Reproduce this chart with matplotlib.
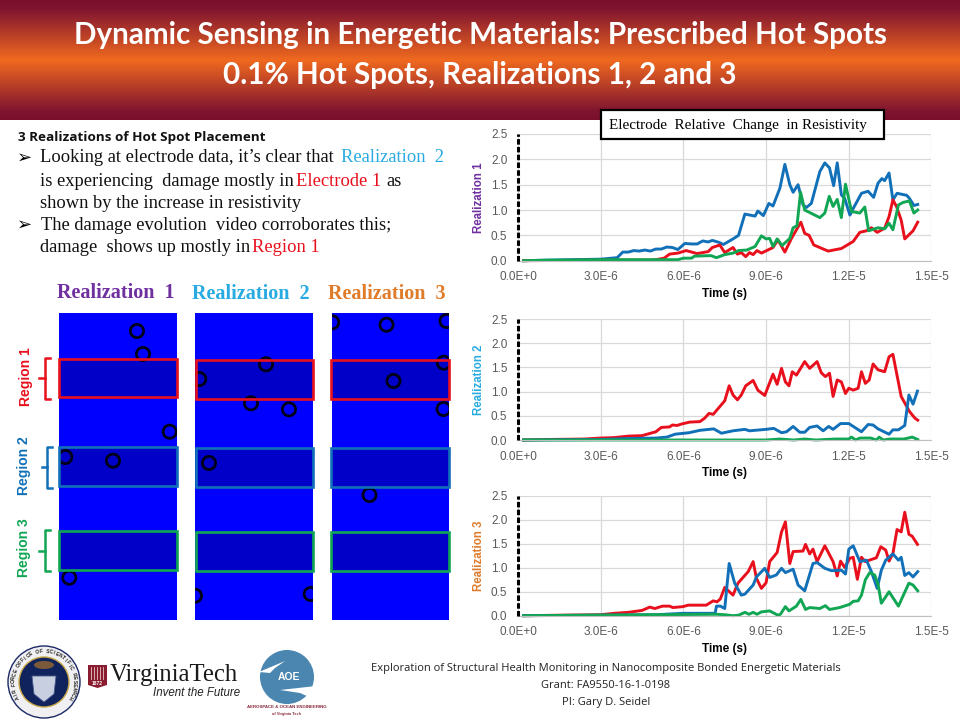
import matplotlib
matplotlib.use("Agg")
import matplotlib.pyplot as plt
import numpy as np
from matplotlib.colors import LinearSegmentedColormap
from matplotlib.patches import Rectangle, Circle, Ellipse, Polygon

RED, BLUE, GREEN = "#e8101c", "#1170b8", "#10a653"
PURPLE, CYAN, ORANGE = "#7030a0", "#29abe2", "#e07b2a"

title_lines = ["Dynamic Sensing in Energetic Materials: Prescribed Hot Spots",
               "0.1% Hot Spots, Realizations 1, 2 and 3"]
realization_names = ["Realization 1", "Realization 2", "Realization 3"]
x_tick_values = [0, 3, 6, 9, 12, 15]
x_tick_labels = ["0.0E+0", "3.0E-6", "6.0E-6", "9.0E-6", "1.2E-5", "1.5E-5"]
y_tick_values = [0, 0.5, 1, 1.5, 2, 2.5]
y_tick_labels = ["0.0", "0.5", "1.0", "1.5", "2.0", "2.5"]

# time (microseconds), value pairs
r1_blue_t = [0.2,1,2,3,3.4,3.6,3.8,4.0,4.2,4.4,4.6,4.8,5.0,5.2,5.4,5.6,5.8,6.05,6.3,6.5,6.7,6.9,7.05,7.3,7.45,7.8,8.0,8.23,8.6,8.7,8.9,9.1,9.25,9.5,9.68,9.86,9.98,10.16,10.34,10.46,10.64,10.95,11.13,11.3,11.45,11.58,11.73,11.85,12.04,12.16,12.46,12.7,12.9,13.06,13.2,13.3,13.46,13.6,13.75,14.1,14.2,14.36,14.5]
r1_blue_v = [0,0.01,0.02,0.03,0.05,0.06,0.17,0.17,0.2,0.19,0.21,0.19,0.23,0.23,0.27,0.26,0.22,0.34,0.33,0.33,0.39,0.37,0.4,0.36,0.32,0.43,0.5,0.92,0.88,0.98,0.89,1.13,1.08,1.43,1.9,1.5,1.35,1.5,1.1,1.05,1.13,1.76,1.93,1.83,1.48,1.93,1.3,1.23,0.9,1.03,1.33,1.37,1.25,1.53,1.62,1.58,1.73,1.2,1.33,1.29,1.23,1.09,1.11]
r1_red_t = [0.2,3,4.8,5.0,5.3,5.5,5.8,6.1,6.5,6.9,7.05,7.32,7.5,7.8,7.96,8.1,8.26,8.4,8.53,8.67,8.83,9.25,9.43,9.68,9.92,10.26,10.4,10.56,10.73,11.25,11.73,12.16,12.4,12.64,12.82,13.03,13.3,13.46,13.6,13.73,13.9,14.03,14.33,14.5]
r1_red_v = [0,0.01,0.01,0.02,0.05,0.13,0.15,0.2,0.14,0.18,0.26,0.31,0.16,0.26,0.13,0.16,0.08,0.16,0.12,0.2,0.15,0.26,0.41,0.17,0.44,0.76,0.54,0.5,0.31,0.19,0.24,0.38,0.56,0.59,0.65,0.56,0.64,0.87,1.2,1.07,0.8,0.43,0.59,0.76]
r1_green_t = [0.2,1,3,5.8,6.0,6.3,6.4,7.0,7.2,7.5,7.8,8.0,8.3,8.6,8.83,9.0,9.13,9.25,9.4,9.58,9.86,9.98,10.12,10.25,10.4,10.95,11.13,11.29,11.43,11.58,11.73,11.88,12.1,12.4,12.58,12.72,13.06,13.3,13.46,13.6,13.8,13.97,14.2,14.36,14.5]
r1_green_v = [0,0.01,0.02,0.02,0.05,0.05,0.09,0.1,0.06,0.12,0.15,0.2,0.21,0.28,0.49,0.43,0.44,0.28,0.43,0.3,0.44,0.65,0.69,1.35,1.0,0.85,0.94,1.27,1.07,1.21,0.85,1.51,0.97,0.94,1.06,0.59,0.65,0.63,0.74,0.61,1.1,1.15,1.18,0.94,1.0]

r2_red_t = [0.2,1,2.4,3,3.5,4,4.5,5,5.2,5.5,5.6,5.77,5.93,6.23,6.6,6.77,6.93,7.08,7.5,7.66,7.8,7.96,8.1,8.26,8.53,8.7,8.95,9.25,9.4,9.56,9.7,9.83,9.95,10.1,10.4,10.58,10.85,11.0,11.15,11.3,11.43,11.58,11.73,11.88,12.0,12.16,12.34,12.46,12.6,12.74,12.88,13.06,13.3,13.46,13.6,13.9,14.2,14.4,14.5]
r2_red_v = [0,0.01,0.02,0.04,0.05,0.08,0.09,0.17,0.26,0.27,0.31,0.3,0.33,0.37,0.38,0.45,0.55,0.53,0.81,1.12,0.93,0.83,0.93,1.12,1.23,1.03,0.92,1.36,1.15,1.48,1.2,1.12,1.41,1.34,1.62,1.48,1.62,1.39,1.31,1.38,0.9,1.24,1.2,0.96,1.07,1.03,1.07,1.41,1.17,1.24,1.57,1.45,1.41,1.72,1.77,0.9,0.59,0.45,0.41]
r2_blue_t = [0.2,3,4,5,5.4,5.7,6.2,6.6,7.1,7.38,7.8,8.23,8.4,9.0,9.28,9.56,9.74,9.98,10.22,10.4,10.58,10.85,11.07,11.27,11.43,11.7,12,12.46,12.7,12.88,13.06,13.46,13.6,13.8,14.03,14.18,14.33,14.49]
r2_blue_v = [0,0.01,0.03,0.04,0.06,0.12,0.15,0.2,0.23,0.14,0.19,0.22,0.19,0.22,0.24,0.15,0.17,0.28,0.16,0.16,0.26,0.29,0.19,0.28,0.22,0.34,0.34,0.17,0.32,0.31,0.23,0.12,0.21,0.21,0.3,0.93,0.74,1.01]
r2_green_t = [0.2,9,9.5,10,10.4,10.8,11.5,12,12.1,12.25,12.4,12.8,13,13.1,13.25,13.5,14,14.3,14.5]
r2_green_v = [0,0,0.02,0,0.02,0,0.02,0.02,0.06,0,0.04,0.04,0,0.06,0,0.02,0.02,0.06,0.01]

r3_red_t = [0.2,1.5,3,3.5,4,4.5,4.78,4.96,5.24,5.5,5.62,5.99,6.17,6.83,7.08,7.22,7.34,7.5,7.8,7.98,8.35,8.53,8.65,8.83,9.0,9.13,9.4,9.56,9.7,9.86,9.98,10.34,10.43,10.58,10.7,10.85,11.13,11.43,11.58,11.7,11.85,12.04,12.16,12.31,12.46,12.6,13,13.16,13.34,13.46,13.6,13.75,13.9,14.03,14.18,14.3,14.49]
r3_red_v = [0,0.01,0.02,0.05,0.07,0.11,0.18,0.15,0.2,0.2,0.17,0.19,0.22,0.22,0.31,0.29,0.35,0.59,0.43,0.68,0.92,1.13,0.78,0.57,0.69,1.13,1.32,1.75,1.96,1.09,1.34,1.35,1.49,1.29,1.39,1.13,1.46,1.13,0.83,1.14,1.01,1.2,1.22,0.76,1.22,1.13,1.21,1.44,1.37,1.14,1.3,1.8,1.75,2.16,1.7,1.66,1.49]
r3_blue_t = [0.2,5,6,7,7.15,7.2,7.34,7.5,7.66,7.86,8.1,8.23,8.53,8.65,8.95,9.13,9.37,9.56,9.7,9.98,10.16,10.4,10.7,10.85,11.13,11.37,11.73,11.88,12,12.16,12.4,12.64,12.82,13.03,13.18,13.34,13.6,13.8,13.9,14.03,14.18,14.33,14.5]
r3_blue_v = [0,0.02,0.05,0.05,0.05,0.2,0.2,0.15,1.09,0.68,0.43,0.45,0.64,0.81,0.99,0.8,0.85,0.99,0.9,0.97,0.64,0.52,1.09,1.11,0.99,0.94,0.95,0.87,1.39,1.46,1.13,1.16,0.92,0.57,0.95,1.16,1.29,1.16,1.22,0.84,0.9,0.81,0.92]
r3_green_t = [0.2,5,7.2,7.5,7.8,8.0,8.23,8.38,8.53,8.67,8.83,9.13,9.43,9.52,9.7,9.83,10.1,10.26,10.43,10.58,10.95,11.15,11.3,11.67,12.04,12.16,12.34,12.46,12.6,12.76,12.94,13.06,13.18,13.46,13.8,14.18,14.33,14.5]
r3_green_v = [0,0.02,0.03,0.02,0,0.01,0.07,0.03,0.07,0.03,0.08,0.1,0.01,0.03,0.19,0.1,0.2,0.34,0.13,0.17,0.15,0.21,0.13,0.17,0.24,0.3,0.31,0.43,0.75,0.9,0.85,0.66,0.26,0.5,0.2,0.68,0.64,0.52]

# hot spot centres inside each realization panel
spots_r1 = [(78,18),(84,41),(110.7,118.7),(6.3,144),(54,147.7),(10.3,264.7)]
spots_r2 = [(71,51.3),(4.3,66),(56,90.3),(94,96.3),(14,150),(0,282.7),(115.7,281)]
spots_r3 = [(0.7,9.3),(55,11.7),(115,8),(112.3,49.7),(62,68),(112,96),(38,182)]

fig = plt.figure(figsize=(9.6, 7.2), dpi=100, facecolor="white")

def px_axes(l, t, r, b, **kw):
    return fig.add_axes([l/960, 1-b/720, (r-l)/960, (b-t)/720], **kw)

# header gradient
hax = px_axes(0, 0, 960, 120)
cmap = LinearSegmentedColormap.from_list("hdr", [(0, "#7a0f2c"), (0.07, "#7f1430"), (0.5, "#f0691f"), (0.93, "#7f1430"), (1, "#7a0f2c")])
hax.imshow(np.linspace(0, 1, 240)[:, None], cmap=cmap, aspect="auto", extent=(0, 960, 120, 0))
hax.axis("off")

# charts
series = [
    [(r1_blue_t, r1_blue_v, BLUE), (r1_red_t, r1_red_v, RED), (r1_green_t, r1_green_v, GREEN)],
    [(r2_red_t, r2_red_v, RED), (r2_blue_t, r2_blue_v, BLUE), (r2_green_t, r2_green_v, GREEN)],
    [(r3_red_t, r3_red_v, RED), (r3_blue_t, r3_blue_v, BLUE), (r3_green_t, r3_green_v, GREEN)],
]
chart_boxes = [(134, 260.7), (319, 440), (496, 615.7)]
ylab_cols = [PURPLE, CYAN, ORANGE]
for (top, bot), ser, name, col in zip(chart_boxes, series, realization_names, ylab_cols):
    ax = px_axes(518, top, 931.5, bot)
    ax.set_xlim(0, 15); ax.set_ylim(0, 2.5)
    ax.set_xticks(x_tick_values, x_tick_labels)
    ax.set_yticks(y_tick_values, y_tick_labels)
    ax.grid(True, color="#d9d9d9", lw=0.9)
    ax.set_axisbelow(True)
    ax.tick_params(length=0, labelsize=8.5, labelcolor="#595959", pad=7.6,
                   labelfontfamily="Liberation Sans")
    for s in ["top", "right", "left"]:
        ax.spines[s].set_visible(False)
    ax.spines["bottom"].set_color("#bfbfbf")
    ax.plot([0, 0], [0, 2.5], color="black", lw=2.2, dashes=(1.8, 0.75), clip_on=False,
            dash_capstyle="butt", zorder=4)
    for t, v, c in ser:
        ax.plot(t, v, color=c, lw=2.1, solid_joinstyle="round", clip_on=False)
    ax.set_xlabel("Time (s)", fontsize=8.5, fontweight="bold", family="Liberation Sans", labelpad=3.5, color="black")
    ax.set_ylabel(name, fontsize=8.3, fontweight="bold", family="Liberation Sans", color=col, labelpad=0)
    ax.yaxis.set_label_coords((485-518)/413.5, 0.5)

# overlay in pixel coordinates
ov = px_axes(0, 0, 960, 720)
ov.set_xlim(0, 960); ov.set_ylim(720, 0); ov.axis("off"); ov.patch.set_alpha(0)

for y, line in zip([35, 75], title_lines):
    ov.text(480, y, line, color="white", fontsize=21.3, fontweight="bold", family="Lato", ha="center", va="center")

# title box
ov.add_patch(Rectangle((601, 110), 283, 29, fc="white", ec="black", lw=1.6, zorder=5))
ov.text(609, 125, "Electrode  Relative  Change  in Resistivity", family="Liberation Serif", fontsize=10.9,
        ha="left", va="center", zorder=6, color="black")

# body text
ov.text(18, 137, "3 Realizations of Hot Spot Placement", family="Open Sans", fontweight="bold", fontsize=9.7,
        va="center", color="#111111")
SERIF = dict(family="Liberation Serif", fontsize=13.3, va="center", color="#111111")
for y in [158, 225]:
    ov.text(17, y, "➢", family="DejaVu Sans", fontsize=13, va="center", color="black")
body = [
    (40, 158, "Looking at electrode data, it’s clear that", None),
    (341, 158, "Realization  2", CYAN),
    (40, 181, "is experiencing  damage mostly in", None),
    (296, 181, "Electrode 1", RED),
    (386, 181, "as", None),
    (40, 203, "shown by the increase in resistivity", None),
    (41, 225, "The damage evolution  video corroborates this;", None),
    (40, 248, "damage  shows up mostly in", None),
    (252, 248, "Region 1", RED),
]
for x, y, s, c in body:
    kw = dict(SERIF)
    if c:
        kw["color"] = c
    ov.text(x, y, s, **kw)

# realization headings
for x, y, s, c in zip([57, 192, 328], [293, 294, 294], realization_names, ylab_cols):
    ov.text(x, y, s.replace(" ", "  "), family="Liberation Serif", fontweight="bold", fontsize=14.5, color=c, va="center")

# panels, regions, hot spots
panel_lefts = [59, 195, 331.5]
region_cols = [RED, BLUE, GREEN]
region_spans = [[(358.8, 397.3), (447, 485.5), (531, 569.5)],
                [(359.7, 398.7), (447.7, 487), (532, 570.7)],
                [(359.7, 398.7), (447.7, 487), (532, 570.7)]]
region_x = [(58.5, 177), (196, 313), (331, 448.5)]
for left, spots, (x0, x1), spans in zip(panel_lefts, [spots_r1, spots_r2, spots_r3], region_x, region_spans):
    panel = Rectangle((left, 313), 117.5, 307, fc="#0000ff", ec="none", zorder=1)
    ov.add_patch(panel)
    for (y0, y1), c in zip(spans, region_cols):
        ov.add_patch(Rectangle((x0, y0), x1-x0, y1-y0, fc="#0000c8", ec="none", zorder=2))
    sc = ov.scatter([left+s[0] for s in spots], [313+s[1] for s in spots], s=90, facecolors="none",
                    edgecolors="#000018", linewidths=2.0, zorder=3)
    sc.set_clip_path(panel)
    for (y0, y1), c in zip(spans, region_cols):
        ov.add_patch(Rectangle((x0, y0), x1-x0, y1-y0, fc="none", ec=c, lw=1.9, zorder=4))

# brackets and region labels
brackets = [(50, 45, 39, 358, 378, 399, RED), (52, 47, 42, 447, 467, 488, BLUE), (50, 45, 39, 530, 551, 571, GREEN)]
for xe, xv, xt, y0, ym, y1, c in brackets:
    ov.plot([xe, xv, xv, xe], [y0, y0, y1, y1], color=c, lw=1.8, solid_joinstyle="round")
    ov.plot([xt, xv], [ym, ym], color=c, lw=1.8)
for x, y, s, c in [(26, 377, "Region 1", RED), (24, 466, "Region 2", BLUE), (24, 548, "Region 3", GREEN)]:
    ov.text(x, y, s, family="Liberation Sans", fontweight="bold", fontsize=10, color=c, rotation=90, ha="center", va="center")

# footer
for y, s in zip([669, 685, 702], ["Exploration of Structural Health Monitoring in Nanocomposite Bonded Energetic Materials",
                                  "Grant: FA9550-16-1-0198", "PI: Gary D. Seidel"]):
    ov.text(606, y, s, family="Open Sans", fontsize=7.97, ha="center", va="center", color="#222222")

# AFOSR seal
ov.add_patch(Circle((44, 682), 36, fc="#f0f0f2", ec="#1a2a66", lw=1.0))
ov.add_patch(Circle((44, 682), 25, fc="#10235c", ec="#c9a94a", lw=1.0))
seal_text = "AIR FORCE OFFICE OF SCIENTIFIC RESEARCH"
for i, ch in enumerate(seal_text):
    a = np.deg2rad(-120 + 240*i/(len(seal_text)-1))
    ov.text(44+30.5*np.sin(a), 682-30.5*np.cos(a), ch, fontsize=3.6, fontweight="bold", family="Liberation Sans",
            color="#222222", rotation=-np.rad2deg(a), rotation_mode="anchor", ha="center", va="center")
ov.add_patch(Polygon([(32, 676), (56, 676), (54, 694), (44, 702), (34, 694)], fc="#c8cfe0", ec="#4a5a8a", lw=0.6))
ov.add_patch(Ellipse((44, 665), 20, 8, fc="#7a5a3a", ec="none"))

# Virginia Tech mark
ov.add_patch(Rectangle((88, 665), 19, 16, fc="#8a1c30", ec="none"))
ov.add_patch(Polygon([(88, 681), (107, 681), (107, 685), (97.5, 688), (88, 685)], fc="#8a1c30", ec="none"))
for bx in [91, 94, 97, 100, 103]:
    ov.plot([bx, bx], [667, 679], color="#e8c8c8", lw=0.6)
ov.text(97.5, 683.5, "1872", family="Liberation Sans", fontweight="bold", fontsize=3.5, color="white", ha="center", va="center")
ov.text(110, 675, "VirginiaTech", family="Liberation Serif", fontsize=17.8, color="#1a1a1a", va="center")
ov.text(240, 693, "Invent the Future", family="Liberation Sans", style="italic", fontsize=8.3, ha="right", va="center", color="#222222")

# AOE mark
ov.add_patch(Circle((287, 677), 27, fc="#4a86b0", ec="none"))
ov.add_patch(Polygon([(259, 672), (285, 661), (275, 668), (270, 673)], fc="white", ec="none"))
ov.add_patch(Polygon([(280, 690), (316, 686), (316, 700), (300, 693)], fc="white", ec="none"))
ov.text(289, 677, "AOE", family="Liberation Sans", fontweight="bold", fontsize=7.5, color="white", ha="center", va="center")
ov.text(287, 707, "AEROSPACE & OCEAN ENGINEERING", family="Liberation Sans", fontweight="bold", fontsize=3.2, color="#8a2a3a", ha="center", va="center")
ov.text(287, 714, "of Virginia Tech", family="Liberation Sans", fontweight="bold", fontsize=2.8, color="#8a2a3a", ha="center", va="center")

fig.savefig("out.png", dpi=100)
